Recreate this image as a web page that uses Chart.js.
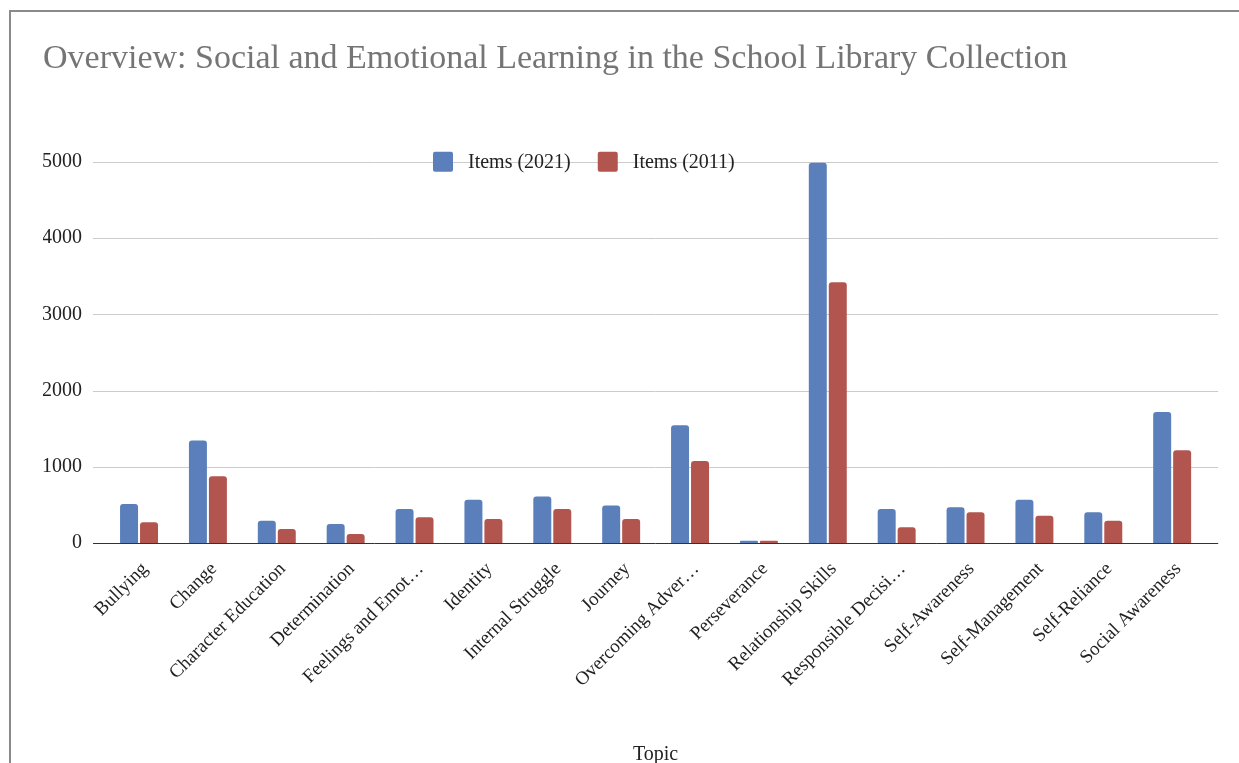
<!DOCTYPE html>
<html>
<head>
<meta charset="utf-8">
<script src="https://cdn.jsdelivr.net/npm/chart.js@4.4.1/dist/chart.umd.min.js"></script>
<style>
  html, body { margin: 0; padding: 0; background: #fff; }
  #wrap { position: relative; width: 1239px; height: 763px; overflow: hidden; }
  #frame { position: absolute; left: 9px; top: 10px; width: 1300px; height: 800px;
           border-left: 2px solid #8a8a8a; border-top: 2px solid #8a8a8a; box-sizing: border-box; }
  canvas { position: absolute; left: 0; top: 0; }
</style>
</head>
<body>
<div id="wrap">
  <div id="frame"></div>
  <canvas id="c" width="1239" height="763"></canvas>
</div>
<script>
const chartTitle = "Overview: Social and Emotional Learning in the School Library Collection";
const xAxisTitle = "Topic";
const categories = [
  "Bullying", "Change", "Character Education", "Determination", "Feelings and Emot\u2026",
  "Identity", "Internal Struggle", "Journey", "Overcoming Adver\u2026", "Perseverance",
  "Relationship Skills", "Responsible Decisi\u2026", "Self-Awareness", "Self-Management",
  "Self-Reliance", "Social Awareness"
];
const seriesNames = ["Items (2021)", "Items (2011)"];
const items2021 = [513, 1345, 293, 250, 447, 566, 609, 491, 1543, 30, 4987, 447, 469, 566, 403, 1719];
const items2011 = [271, 876, 184, 118, 337, 316, 447, 316, 1074, 30, 3421, 206, 403, 359, 293, 1215];
const yTicks = [0, 1000, 2000, 3000, 4000, 5000];

const colors = ["#5a7fbb", "#b2554f"];
const serif = "'Liberation Serif', 'Times New Roman', serif";
const GRID_EXT = 11.6;

// horizontal gridlines extend a little past the category band, as in the source chart
const gridPlugin = {
  id: 'extGrid',
  beforeDatasetsDraw(chart) {
    const ctx = chart.ctx, ca = chart.chartArea, ys = chart.scales.y;
    ctx.save();
    yTicks.forEach(v => {
      const y = Math.round(ys.getPixelForValue(v)) + 0.5;
      ctx.strokeStyle = v === 0 ? '#333' : '#cccccc';
      ctx.lineWidth = 1;
      ctx.beginPath();
      ctx.moveTo(ca.left - GRID_EXT, y);
      ctx.lineTo(ca.right + GRID_EXT, y);
      ctx.stroke();
    });
    ctx.restore();
  }
};

const legendPlugin = {
  id: 'customLegend',
  afterDraw(chart) {
    const ctx = chart.ctx;
    const ca = chart.chartArea;
    const y = ca.top;
    let x = ca.left + 328.4;
    ctx.save();
    ctx.font = "20px " + serif;
    ctx.textBaseline = 'middle';
    chart.data.datasets.forEach((ds) => {
      ctx.fillStyle = ds.backgroundColor;
      ctx.beginPath();
      if (ctx.roundRect) ctx.roundRect(x, y - 10, 20, 20, 2); else ctx.rect(x, y - 10, 20, 20);
      ctx.fill();
      x += 35;
      ctx.fillStyle = '#222';
      ctx.fillText(ds.label, x, y + 1);
      x += ctx.measureText(ds.label).width + 27;
    });
    ctx.restore();
  }
};

new Chart(document.getElementById('c'), {
  type: 'bar',
  data: {
    labels: categories,
    datasets: [
      { label: seriesNames[0], data: items2021, backgroundColor: colors[0] },
      { label: seriesNames[1], data: items2011, backgroundColor: colors[1] }
    ]
  },
  options: {
    responsive: false,
    animation: false,
    devicePixelRatio: 1,
    layout: { padding: { left: 43, right: 32.4, top: 39, bottom: 0 } },
    datasets: {
      bar: { categoryPercentage: 0.58, barPercentage: 0.9, borderRadius: 3, borderSkipped: 'start' }
    },
    plugins: {
      legend: { display: false },
      tooltip: { enabled: false },
      title: {
        display: true, text: chartTitle, align: 'start', color: '#757575',
        font: { family: serif, size: 34, weight: 'normal' },
        padding: { top: 0, bottom: 82 }
      }
    },
    scales: {
      x: {
        grid: { display: false, drawTicks: false },
        border: { display: false },
        ticks: {
          color: '#222', font: { family: serif, size: 19 },
          minRotation: 45, maxRotation: 45, autoSkip: false, padding: 15, labelOffset: 6
        },
        title: {
          display: true, text: xAxisTitle, color: '#222',
          font: { family: serif, size: 20 }, padding: { top: 0, bottom: -4 }
        },
        afterFit(scale) { scale.height = 220; }
      },
      y: {
        min: 0, max: 5000,
        afterBuildTicks(scale) { scale.ticks = yTicks.map(v => ({ value: v })); },
        grid: { display: false, drawTicks: false },
        border: { display: false },
        ticks: {
          color: '#222', font: { family: serif, size: 20 }, padding: 22.6,
          callback: (v) => String(v)
        },
        afterFit(scale) { scale.width = 61.6; }
      }
    }
  },
  plugins: [gridPlugin, legendPlugin]
});
</script>
</body>
</html>
